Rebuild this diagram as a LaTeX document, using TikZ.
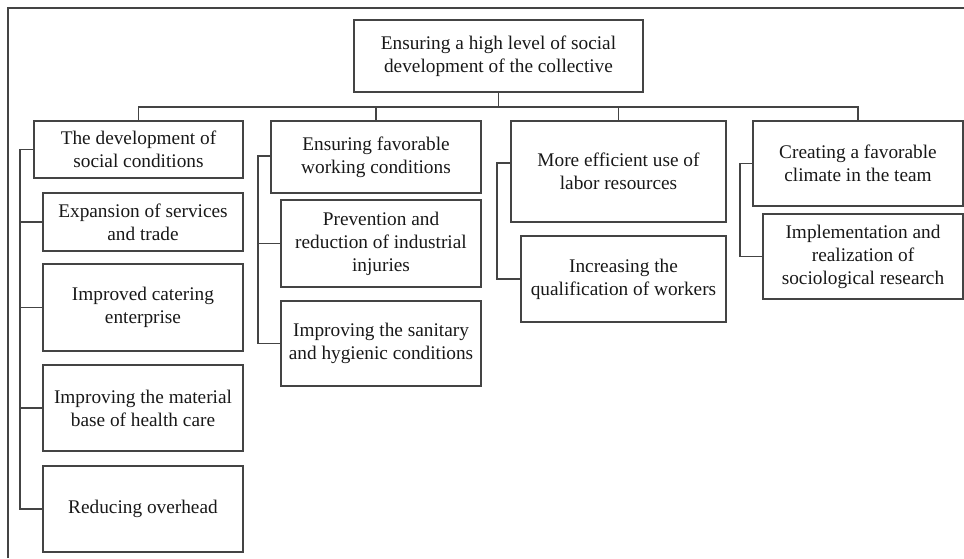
\documentclass[tikz,border=0pt]{standalone}
\usepackage{fontspec}
\setmainfont{Liberation Serif}
\definecolor{linec}{HTML}{444444}
\definecolor{textc}{HTML}{181818}
\begin{document}
\begin{tikzpicture}[x=1pt,y=-1pt,
  box/.style={draw=linec, line width=1.6pt, rectangle, inner sep=0pt, align=center,
    text=textc, font=\fontsize{19.3}{23}\selectfont},
  conn/.style={draw=linec, line width=1.6pt}]
\useasboundingbox (0,0) rectangle (964,558);
\draw[conn] (8,558) -- (8,8) -- (964,8);
% top
\node[box, minimum width=289, minimum height=72] (top) at (498.5,56) {Ensuring a high level of social\\development of the collective};
% level 1
\node[box, minimum width=209, minimum height=57] (b1) at (138.5,149.5) {The development of\\social conditions};
\node[box, minimum width=210, minimum height=72] (b2) at (376,157) {Ensuring favorable\\working conditions};
\node[box, minimum width=215, minimum height=101] (b3) at (618.5,171.5) {More efficient use of\\labor resources};
\node[box, minimum width=210, minimum height=85] (b4) at (858,163.5) {Creating a favorable\\climate in the team};
% children of b1
\node[box, minimum width=200, minimum height=58] (c11) at (143,222) {Expansion of services\\and trade};
\node[box, minimum width=200, minimum height=87] (c12) at (143,307.5) {Improved catering\\enterprise};
\node[box, minimum width=200, minimum height=86] (c13) at (143,408) {Improving the material\\base of health care};
\node[box, minimum width=200, minimum height=86] (c14) at (143,509) {Reducing overhead};
% children of b2
\node[box, minimum width=200, minimum height=87] (c21) at (381,243.5) {Prevention and\\reduction of industrial\\injuries};
\node[box, minimum width=200, minimum height=85] (c22) at (381,343.5) {Improving the sanitary\\and hygienic conditions};
% children of b3
\node[box, minimum width=205, minimum height=86] (c31) at (623.5,279) {Increasing the\\qualification of workers};
% children of b4
\node[box, minimum width=200, minimum height=85] (c41) at (863,256.5) {Implementation and\\realization of\\sociological research};
% bus
\coordinate (busy) at (0,107);
\draw[conn] (top.south) -- (top.south |- busy);
\draw[conn] (b1.north) -- (b1.north |- busy) -- (b4.north |- busy) -- (b4.north);
\draw[conn] (b2.north) -- (b2.north |- busy);
\draw[conn] (b3.north) -- (b3.north |- busy);
% brackets
\coordinate (s1) at (20,0);
\coordinate (s2) at (258,0);
\coordinate (s3) at (497,0);
\coordinate (s4) at (740,0);
\draw[conn] (b1.west) -- (b1.west -| s1) |- (c14.west);
\draw[conn] (c11.west) -- (c11.west -| s1);
\draw[conn] (c12.west) -- (c12.west -| s1);
\draw[conn] (c13.west) -- (c13.west -| s1);
\draw[conn] ([yshift=1pt]b2.west) -- ([yshift=1pt]b2.west -| s2) |- (c22.west);
\draw[conn] (c21.west) -- (c21.west -| s2);
\coordinate (b3stub) at ([yshift=8.5pt]b3.west);
\draw[conn] (b3stub) -- (b3stub -| s3) |- (c31.west);
\draw[conn] (b4.west) -- (b4.west -| s4) |- (c41.west);
\end{tikzpicture}
\end{document}
